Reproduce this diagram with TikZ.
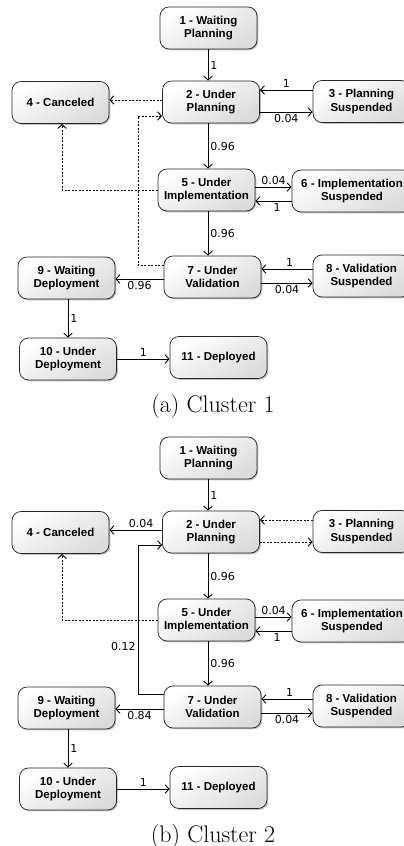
\documentclass[tikz,border=0pt]{standalone}
\usepackage{fontspec}
\newfontfamily\boxfont{Liberation Sans}
\newfontfamily\lblfont{DejaVu Sans}
\usetikzlibrary{arrows.meta,shadows}
\tikzset{
  st/.style={draw=black!85, line width=0.75pt, rounded corners=9pt,
    minimum width=97pt, minimum height=42pt, inner sep=1pt, align=center,
    font=\boxfont\bfseries\fontsize{11.5}{13.5}\selectfont,
    top color=white, bottom color=black!14, shading angle=30,
    drop shadow={shadow xshift=1.3pt, shadow yshift=-1.3pt, opacity=0.5}},
  arr/.style={draw=black, line width=0.9pt, -{Straight Barb[length=4pt,width=8.5pt]}},
  dsh/.style={arr, dash pattern=on 2pt off 1.5pt},
  lbl/.style={font=\lblfont\fontsize{11}{12}\selectfont, inner sep=2pt},
  captext/.style={font=\fontsize{24}{26}\selectfont, inner sep=0pt}
}
\newcommand\clusternodes[1]{%
  \node[st] (#1n1) at (208.5,28) {1 - Waiting\\Planning};
  \node[st] (#1n2) at (211,102) {2 - Under\\Planning};
  \node[st] (#1n3) at (361.5,101.5) {3 - Planning\\Suspended};
  \node[st] (#1n4) at (60.5,102.5) {4 - Canceled};
  \node[st] (#1n5) at (206.5,190) {5 - Under\\Implementation};
  \node[st, minimum width=120pt] (#1n6) at (352,191) {6 - Implementation\\Suspended};
  \node[st] (#1n7) at (212.5,277) {7 - Under\\Validation};
  \node[st] (#1n8) at (361.5,276) {8 - Validation\\Suspended};
  \node[st] (#1n9) at (66.5,278) {9 - Waiting\\Deployment};
  \node[st] (#1n10) at (68,359) {10 - Under\\Deployment};
  \node[st] (#1n11) at (218.5,357.5) {11 - Deployed};
}
\newcommand\clusteredges[2]{%
  \draw[arr] (#1n1.south -| 208,0) -- (#1n2.north -| 208,0) node[midway,right,lbl]{1};
  \draw[arr] (#1n2.south -| 208,0) -- (#1n5.north -| 208,0) node[midway,right,lbl]{0.96};
  \draw[arr] (#1n5.south -| 208,0) -- (#1n7.north -| 208,0) node[midway,right,lbl]{0.96};
  \draw[arr] (#1n5.east |- 0,187) -- (#1n6.west |- 0,187) node[midway,above,lbl]{0.04};
  \draw[arr] (#1n6.west |- 0,201) -- (#1n5.east |- 0,201) node[pos=0.4,below,lbl]{1};
  \draw[arr] (#1n8.west |- 0,269) -- (#1n7.east |- 0,269) node[pos=0.45,above,lbl]{1};
  \draw[arr] (#1n7.east |- 0,283) -- (#1n8.west |- 0,283) node[midway,below,lbl]{0.04};
  \draw[arr] (#1n7.west |- 0,279) -- (#1n9.east |- 0,279) node[midway,below,lbl]{#2};
  \draw[arr] (#1n9.south -| 68,0) -- (#1n10.north -| 68,0) node[midway,right,lbl]{1};
  \draw[arr] (#1n10.east |- 0,359) -- (#1n11.west |- 0,359) node[midway,above,lbl]{1};
  \draw[dsh] (#1n5.west |- 0,190) -| (#1n4.south -| 62,0);
}
\begin{document}
\begin{tikzpicture}[x=1pt,y=-1pt]
  \useasboundingbox (0,0) rectangle (404,846);
  \clip (0,0) rectangle (404,846);
  % Cluster 1
  \clusternodes{a}
  \clusteredges{a}{0.96}
  \draw[arr] (an3.west |- 0,90) -- (an2.east |- 0,90) node[midway,above,lbl]{1};
  \draw[arr] (an2.east |- 0,112) -- (an3.west |- 0,112) node[midway,below,lbl]{0.04};
  \draw[dsh] (an2.west |- 0,100) -- (an4.east |- 0,100);
  \draw[dsh] (an7.west |- 0,265) -| (138,116) -- (an2.west |- 0,116);
  \node[captext] (capa) at (213,407) {(a) Cluster 1};
  % Cluster 2
  \begin{scope}[yshift=-430pt]
    \clusternodes{b}
    \clusteredges{b}{0.84}
    \draw[dsh] (bn3.west |- 0,90) -- (bn2.east |- 0,90);
    \draw[dsh] (bn2.east |- 0,112) -- (bn3.west |- 0,112);
    \draw[arr] (bn2.west |- 0,100) -- (bn4.east |- 0,100) node[pos=0.4,above,lbl]{0.04};
    \draw[arr] (bn7.west |- 0,264) -| (138,115) node[pos=0.66,left,lbl]{0.12} -- (bn2.west |- 0,115);
    \node[captext] (capb) at (213,407) {(b) Cluster 2};
  \end{scope}
\end{tikzpicture}
\end{document}
